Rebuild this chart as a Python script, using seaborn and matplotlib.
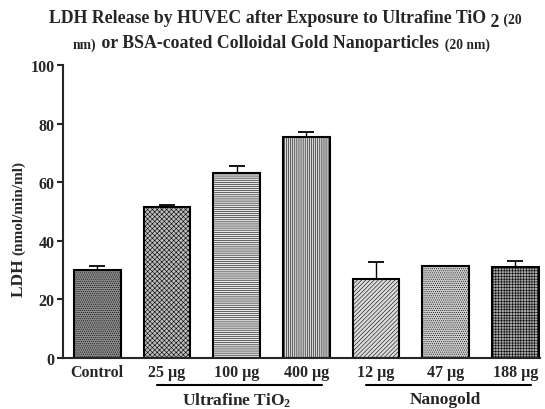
import numpy as np
import pandas as pd
import matplotlib
matplotlib.use("Agg")
import matplotlib.pyplot as plt
import seaborn as sns

# Data
groups = ["Control", "25 µg", "100 µg", "400 µg", "12 µg", "47 µg", "188 µg"]
ldh = [30.0, 51.6, 63.1, 75.5, 27.1, 31.3, 31.2]
sem = [1.3, 0.7, 2.4, 1.5, 5.7, 0.0, 1.8]
hatches = ["........", "xxxxxxx", "--------", "||||||||", "////////", "........", "++++++"]
fills = ["#8c8c8c", "#bdbdbd", "#e6e6e6", "#d6d6d6", "#dcdcdc", "#cfcfcf", "#a8a8a8"]
group_names = ["Ultrafine TiO$_2$", "Nanogold"]
group_members = [["25 µg", "100 µg", "400 µg"], ["12 µg", "47 µg", "188 µg"]]

df = pd.DataFrame({"group": groups, "ldh": ldh, "sem": sem})

sns.set_style("ticks")
plt.rcParams["font.family"] = ["Liberation Serif", "DejaVu Serif"]
plt.rcParams["font.weight"] = "bold"
plt.rcParams["mathtext.fontset"] = "custom"
plt.rcParams["mathtext.rm"] = "Liberation Serif:bold"
plt.rcParams["mathtext.it"] = "Liberation Serif:bold"
plt.rcParams["hatch.linewidth"] = 0.4

fig = plt.figure(figsize=(5.45, 4.10), dpi=100)
ax = fig.add_axes([0.1156, 0.1244, 0.876, 0.7146])

sns.barplot(data=df, x="group", y="ldh", order=groups, width=0.67,
            color="#cccccc", edgecolor="black", linewidth=1.5, ax=ax)
for p, h, c in zip(ax.patches, hatches, fills):
    p.set_hatch(h)
    p.set_facecolor(c)

xs = np.arange(len(groups))
ax.errorbar(xs, df["ldh"], yerr=[np.zeros(len(groups)), df["sem"]],
            fmt="none", ecolor="black", elinewidth=1.0, capsize=6, capthick=1.3)

ax.set_xlim(-0.49, 6.36)
ax.set_ylim(0, 100)
ax.set_yticks([0, 20, 40, 60, 80, 100])
ax.set_xlabel("")
ax.set_ylabel("")
ax.tick_params(axis="y", labelsize=11.5, width=1.5, length=4, pad=2)
ax.tick_params(axis="x", labelsize=11.5, length=0, pad=4)
for lab in ax.get_xticklabels() + ax.get_yticklabels():
    lab.set_fontweight("bold")
for s in ["left", "bottom"]:
    ax.spines[s].set_linewidth(1.5)
sns.despine(ax=ax)

# y label: "LDH" larger, units smaller
yl1 = fig.text(0.035, 0.275, "LDH ", rotation=90, ha="center", va="bottom",
               fontsize=12.5, fontweight="bold")
fig.canvas.draw()
ax.annotate("(nmol/min/ml)", xy=(0.5, 1.0), xycoords=yl1, rotation=90,
            ha="center", va="bottom", fontsize=11, fontweight="bold")

# group brackets under the category labels
trans = ax.get_xaxis_transform()
for name, members in zip(group_names, group_members):
    idx = [groups.index(m) for m in members]
    x0, x1 = idx[0] - 0.14, idx[-1] + 0.22
    ax.plot([x0, x1], [-0.092, -0.092], color="black", lw=1.5,
            transform=trans, clip_on=False)
    ax.text((idx[0] + idx[-1]) / 2, -0.112, name, transform=trans,
            ha="center", va="top", fontsize=12.5, fontweight="bold")

# title with mixed font sizes, as in the original
big, small = 12.8, 9.8
t1 = fig.text(0.09, 0.935, "LDH Release by HUVEC after Exposure to Ultrafine TiO",
              ha="left", va="bottom", fontsize=big, fontweight="bold")
fig.canvas.draw()
t2 = ax.annotate(" 2", xy=(1, 0), xycoords=t1, xytext=(0, -3), textcoords="offset points",
                 ha="left", va="bottom", fontsize=big, fontweight="bold")
fig.canvas.draw()
ax.annotate(" (20", xy=(1, 0), xycoords=t2, xytext=(0, 3), textcoords="offset points",
            ha="left", va="bottom", fontsize=small, fontweight="bold")
t4 = fig.text(0.134, 0.872, "nm)", ha="left", va="bottom",
              fontsize=small, fontweight="bold")
fig.canvas.draw()
t5 = ax.annotate(" or BSA-coated Colloidal Gold Nanoparticles", xy=(1, 0), xycoords=t4,
                 ha="left", va="bottom", fontsize=big, fontweight="bold")
fig.canvas.draw()
ax.annotate("  (20 nm)", xy=(1, 0), xycoords=t5, ha="left", va="bottom",
            fontsize=small, fontweight="bold")

fig.savefig("out.png", dpi=100)
